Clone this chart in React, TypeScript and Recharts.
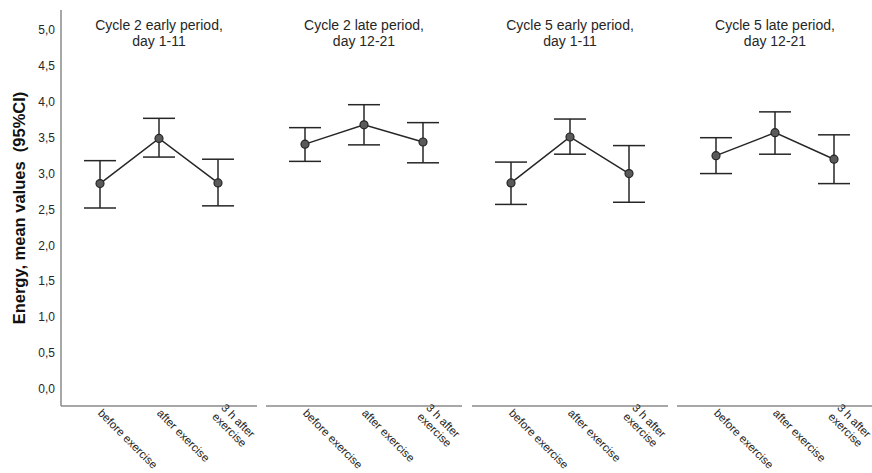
import { ErrorBar, Label, Line, LineChart, XAxis, YAxis } from "recharts";

// x categories (shared by all four panels)
const CATEGORIES = ["before exercise", "after exercise", "3 h after exercise"];
const TICK_LINES: Record<string, string[]> = {
	"before exercise": ["before exercise"],
	"after exercise": ["after exercise"],
	"3 h after exercise": ["3 h after", "exercise"],
};

const PANEL_TITLES = [
	["Cycle 2 early period,", "day 1-11"],
	["Cycle 2 late period,", "day 12-21"],
	["Cycle 5 early period,", "day 1-11"],
	["Cycle 5 late period,", "day 12-21"],
];

// mean energy + 95% CI per panel
const C2_EARLY_MEAN = [2.86, 3.49, 2.87];
const C2_EARLY_LOW = [2.52, 3.23, 2.55];
const C2_EARLY_HIGH = [3.18, 3.77, 3.2];

const C2_LATE_MEAN = [3.41, 3.68, 3.44];
const C2_LATE_LOW = [3.17, 3.4, 3.15];
const C2_LATE_HIGH = [3.64, 3.96, 3.71];

const C5_EARLY_MEAN = [2.87, 3.51, 3.0];
const C5_EARLY_LOW = [2.57, 3.27, 2.6];
const C5_EARLY_HIGH = [3.16, 3.76, 3.39];

const C5_LATE_MEAN = [3.25, 3.57, 3.2];
const C5_LATE_LOW = [3.0, 3.27, 2.86];
const C5_LATE_HIGH = [3.5, 3.86, 3.54];

const Y_TICKS = [0, 0.5, 1, 1.5, 2, 2.5, 3, 3.5, 4, 4.5, 5];

const PANELS = [
	{ mean: C2_EARLY_MEAN, low: C2_EARLY_LOW, high: C2_EARLY_HIGH },
	{ mean: C2_LATE_MEAN, low: C2_LATE_LOW, high: C2_LATE_HIGH },
	{ mean: C5_EARLY_MEAN, low: C5_EARLY_LOW, high: C5_EARLY_HIGH },
	{ mean: C5_LATE_MEAN, low: C5_LATE_LOW, high: C5_LATE_HIGH },
];

const AXIS_COLOR = "#8a8a8a";
const INK = "#262626";
const PLOT_W = 196;
const Y_AXIS_W = 61;
const OVERHANG = 50; // room for rotated tick labels past the plot edge
const PANEL_LEFT = [61, 266, 472, 677];
const Y_DOMAIN: [number, number] = [-0.24, 5.28];

function RotatedTick(props: any) {
	const { x, payload } = props;
	const lines = TICK_LINES[payload.value] || [payload.value];
	const first = lines.length > 1 ? -0.3 : 0.35;
	return (
		<g transform={`translate(${x},${411}) rotate(45)`}>
			<text textAnchor="start" fontSize={11.5} fill={INK}>
				{lines.map((l, i) => (
					<tspan key={i} x={0} dy={i === 0 ? `${first}em` : "1.1em"}>
						{l}
					</tspan>
				))}
			</text>
		</g>
	);
}

function Panel({ index }: { index: number }) {
	const p = PANELS[index];
	const data = CATEGORIES.map((c, i) => ({
		name: c,
		mean: p.mean[i],
		err: [p.mean[i] - p.low[i], p.high[i] - p.mean[i]],
	}));
	const first = index === 0;
	const width = (first ? Y_AXIS_W : 0) + PLOT_W + OVERHANG;
	const left = first ? 0 : PANEL_LEFT[index];
	return (
		<div style={{ position: "absolute", left, top: 0, width, height: 473 }}>
			<LineChart width={width} height={473} data={data} margin={{ top: 10, right: OVERHANG, bottom: 0, left: 0 }}>
				<XAxis
					dataKey="name"
					height={67}
					padding={{ left: 39, right: 39 }}
					axisLine={{ stroke: AXIS_COLOR, strokeWidth: 1.5 }}
					tickLine={false}
					interval={0}
					tick={<RotatedTick />}
				/>
				<YAxis
					width={first ? Y_AXIS_W : 0}
					domain={Y_DOMAIN}
					ticks={Y_TICKS}
					axisLine={{ stroke: AXIS_COLOR, strokeWidth: 1.5 }}
					tickLine={false}
					tickMargin={0}
					tick={first ? { fill: INK, fontSize: 12 } : false}
					tickFormatter={(v: number) => v.toFixed(1).replace(".", ",")}
				>
					{first && (
						<Label
							value={"Energy, mean values\u00a0\u00a0(95%CI)"}
							angle={-90}
							position="insideLeft"
							offset={19}
							style={{ textAnchor: "middle", fontWeight: "bold", fontSize: 16.5, fill: "#111" }}
						/>
					)}
				</YAxis>
				<Line
					dataKey="mean"
					stroke={INK}
					strokeWidth={1.5}
					dot={{ r: 4, fill: "#5a5a5a", stroke: INK, strokeWidth: 1.2 }}
					activeDot={false}
					isAnimationActive={false}
				>
					<ErrorBar dataKey="err" width={16} strokeWidth={1.5} stroke={INK} direction="y" isAnimationActive={false} />
				</Line>
			</LineChart>
			<div
				style={{
					position: "absolute",
					top: 17,
					left: first ? Y_AXIS_W : 0,
					width: PLOT_W,
					textAlign: "center",
					fontSize: 14,
					lineHeight: "16px",
					color: INK,
				}}
			>
				{PANEL_TITLES[index].map((t, i) => (
					<div key={i}>{t}</div>
				))}
			</div>
		</div>
	);
}

export default function App() {
	return (
		<div
			style={{
				position: "absolute",
				left: 0,
				top: 0,
				width: 872,
				height: 473,
				overflow: "hidden",
				background: "#fff",
				fontFamily: "'Liberation Sans', Arial, sans-serif",
			}}
		>
			{PANELS.map((_, i) => (
				<Panel key={i} index={i} />
			))}
		</div>
	);
}
